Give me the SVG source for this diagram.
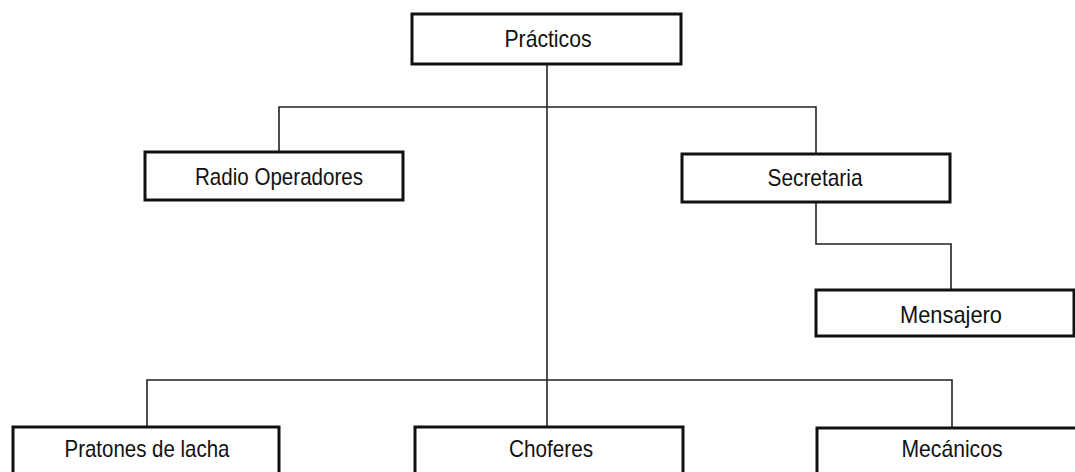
<svg xmlns="http://www.w3.org/2000/svg" width="1075" height="472" viewBox="0 0 1075 472">
<style>
.box{fill:#fff;stroke:#111;stroke-width:3}
.lbl{font-family:"Liberation Sans",Arial,sans-serif;font-size:24px;fill:#111;text-anchor:middle}
.con{fill:none;stroke:#222;stroke-width:1.6}
</style>
<rect width="1075" height="472" fill="#fff"/>
<g id="connectors">
<path class="con" d="M547,64 V427"/>
<path class="con" d="M279,152 V107 H816 V154"/>
<path class="con" d="M816,202 V244 H951 V290"/>
<path class="con" d="M147,427 V380 H952 V428"/>
</g>
<g id="practicos"><rect class="box" x="412" y="14" width="269" height="50"/><text class="lbl" x="548" y="47" textLength="87" lengthAdjust="spacingAndGlyphs">Prácticos</text></g>
<g id="radio"><rect class="box" x="145" y="152" width="258" height="48"/><text class="lbl" x="279" y="185" textLength="168" lengthAdjust="spacingAndGlyphs">Radio Operadores</text></g>
<g id="secretaria"><rect class="box" x="682" y="154" width="268" height="48"/><text class="lbl" x="815" y="186" textLength="95" lengthAdjust="spacingAndGlyphs">Secretaria</text></g>
<g id="mensajero"><rect class="box" x="816" y="290" width="258" height="46"/><text class="lbl" x="951" y="323" textLength="102" lengthAdjust="spacingAndGlyphs">Mensajero</text></g>
<g id="pratones"><rect class="box" x="13" y="427" width="266" height="50"/><text class="lbl" x="147" y="457" textLength="165" lengthAdjust="spacingAndGlyphs">Pratones de lacha</text></g>
<g id="choferes"><rect class="box" x="415" y="427" width="268" height="50"/><text class="lbl" x="551" y="457" textLength="84" lengthAdjust="spacingAndGlyphs">Choferes</text></g>
<g id="mecanicos"><rect class="box" x="817" y="428" width="262" height="50"/><text class="lbl" x="952" y="457" textLength="101" lengthAdjust="spacingAndGlyphs">Mecánicos</text></g>
</svg>
